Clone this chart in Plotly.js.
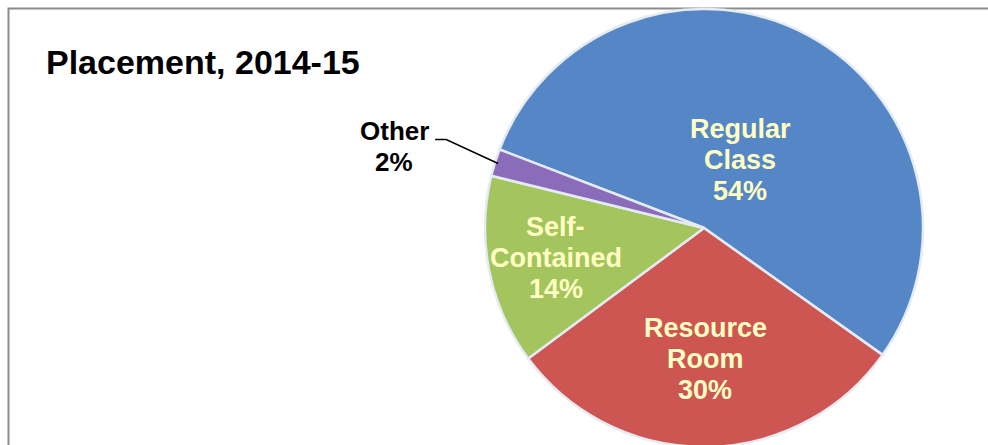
<!DOCTYPE html>
<html>
<head>
<meta charset="utf-8">
<script src="https://cdn.plot.ly/plotly-3.0.1.min.js"></script>
<style>
  html, body { margin: 0; padding: 0; background: #fff; overflow: hidden; }
  #chart { width: 988px; height: 460px; }
</style>
</head>
<body>
<div id="chart"></div>
<script>
// ---- data ----
const categories = ['Regular Class', 'Resource Room', 'Self-Contained', 'Other'];
const labelLines = [['Regular', 'Class'], ['Resource', 'Room'], ['Self-', 'Contained'], ['Other']];
const values = [54, 30, 14, 2];
const sliceColors = ['#5587C6', '#CE5652', '#A4C55E', '#8A6CBA'];
const titleText = 'Placement, 2014-15';

// ---- layout constants ----
const W = 988, H = 460;
const cx = 704, cy = 228, R = 219;       // pie centre / radius in pixels
const rotationDeg = -69;                  // first slice start angle (clockwise from 12 o'clock)
const labelRadius = [0.35, 0.60, 0.69];   // radial position of the inside labels
const lineGap = 31;                       // label line spacing in px
const FONT = 'Liberation Sans, Arial, sans-serif';

const total = values.reduce((a, b) => a + b, 0);
function px2x(px) { return px / W; }
function py2y(py) { return 1 - py / H; }

const annotations = [];
const shapes = [{
  type: 'rect', xref: 'paper', yref: 'paper', layer: 'below',
  x0: 8.5 / W, x1: 1.2, y0: -0.2, y1: 1 - 8.5 / H,
  line: { color: '#8C8C8C', width: 2 }, fillcolor: 'rgba(0,0,0,0)'
}];

let cum = 0;
values.forEach((v, i) => {
  const mid = (rotationDeg + (cum + v / 2) / total * 360) * Math.PI / 180;
  cum += v;
  const pct = Math.round(v / total * 100) + '%';
  const lines = labelLines[i].concat([pct]);
  if (i < 3) {
    const f = labelRadius[i];
    const lx = cx + f * R * Math.sin(mid), ly = cy - f * R * Math.cos(mid);
    lines.forEach((t, k) => {
      annotations.push({
        xref: 'paper', yref: 'paper', x: px2x(lx), y: py2y(ly + (k - (lines.length - 1) / 2) * lineGap),
        xanchor: 'center', yanchor: 'middle', showarrow: false, text: t,
        font: { family: FONT, size: 27, color: '#FFFFC4', weight: 'bold' }
      });
    });
  } else {
    // outside label with leader line to the slice edge
    const ex = cx + 0.985 * R * Math.sin(mid), ey = cy - 0.985 * R * Math.cos(mid);
    const tx = ex - 104, ty = ey - 17;   // label block centre
    lines.forEach((t, k) => {
      annotations.push({
        xref: 'paper', yref: 'paper', x: px2x(tx), y: py2y(ty + (k - (lines.length - 1) / 2) * lineGap),
        xanchor: 'center', yanchor: 'middle', showarrow: false, text: t,
        font: { family: FONT, size: 26, color: '#000', weight: 'bold' }
      });
    });
    const sx = tx + 41, sy = ty - 7;
    shapes.push({
      type: 'path', xref: 'paper', yref: 'paper',
      path: 'M ' + px2x(sx) + ' ' + py2y(sy) + ' L ' + px2x(sx + 11) + ' ' + py2y(sy) +
            ' L ' + px2x(ex) + ' ' + py2y(ey),
      line: { color: '#000', width: 1.5 }
    });
  }
});

const trace = {
  type: 'pie',
  labels: categories,
  values: values,
  sort: false,
  direction: 'clockwise',
  rotation: rotationDeg,
  textinfo: 'none',
  hoverinfo: 'label+percent',
  marker: { colors: sliceColors, line: { color: '#E4EBF2', width: 2.5 } },
  domain: { x: [(cx - R) / W, (cx + R) / W], y: [1 - (cy + R) / H, 1 - (cy - R) / H] },
  showlegend: false
};

const layout = {
  width: W, height: H,
  margin: { l: 0, r: 0, t: 0, b: 0 },
  paper_bgcolor: '#fff',
  title: {
    text: titleText, x: 46 / W, xanchor: 'left', xref: 'paper',
    y: 1 - 62 / H, yanchor: 'middle', yref: 'container',
    font: { family: FONT, size: 34, color: '#000', weight: 'bold' }
  },
  annotations: annotations,
  shapes: shapes
};

Plotly.newPlot('chart', [trace], layout, { displayModeBar: false, staticPlot: true });
</script>
</body>
</html>
